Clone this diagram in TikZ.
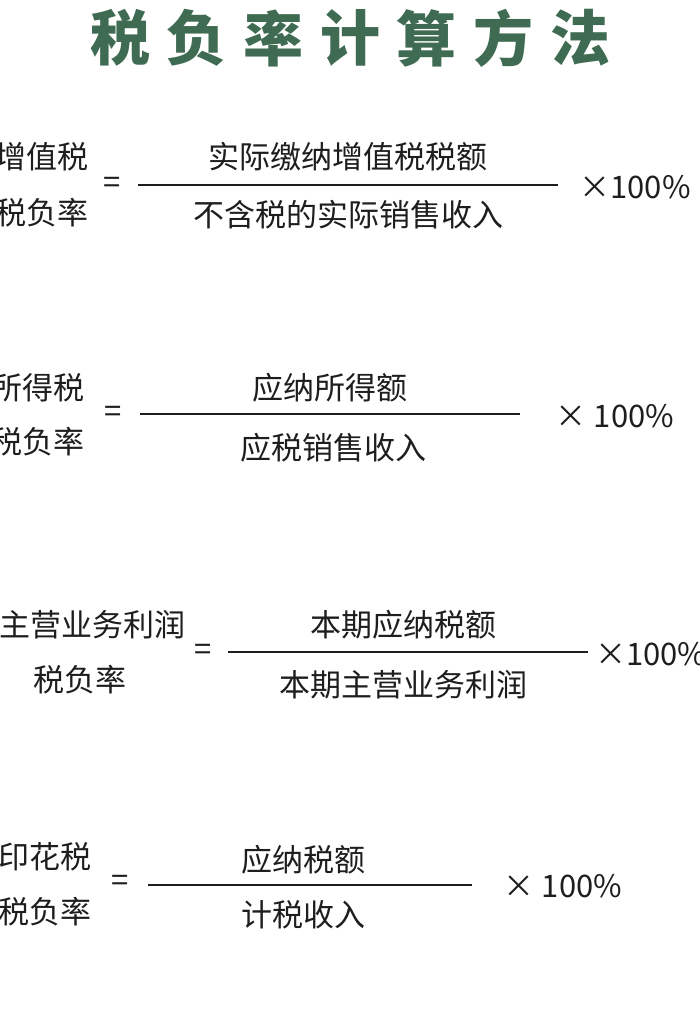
\documentclass[tikz,border=0pt]{standalone}
\usepackage{fontspec}
\setmainfont{Noto Sans CJK SC}
\newfontfamily\titlefont{Noto Sans CJK SC Black}
\definecolor{tgreen}{HTML}{3F6B52}
\definecolor{ink}{HTML}{1E1E1E}
\begin{document}
\begin{tikzpicture}[x=1pt,y=-1pt,
  txt/.style={inner sep=0pt,text=ink,font=\fontsize{31}{33}\selectfont},
  ttl/.style={inner sep=0pt,text=tgreen,font=\titlefont\fontsize{60}{62}\selectfont},
  frac/.style={line width=1.3pt,draw=ink}]
\useasboundingbox (0,0) rectangle (700,1032);
\fill[white] (0,0) rectangle (700,1032);
% title
\foreach \c [count=\i from 0] in {税,负,率,计,算,方,法}
  \node[ttl] (t\i) at (120+\i*76.7,38) {\c};
% formula 1
\node[txt] (a1) at (42,157) {增值税};
\node[txt] (a2) at (42,213) {税负率};
\node[txt] (ae) at (112,185) {=};
\coordinate (al) at (138,185); \coordinate (ar) at (558,185);
\draw[frac] (al) -- (ar);
\node[txt] (an) at (348,157) {实际缴纳增值税税额};
\node[txt] (ad) at (348,215) {不含税的实际销售收入};
\node[txt] (ap) at (635,187) {×100\%};
% formula 2
\node[txt] (b1) at (38,388) {所得税};
\node[txt] (b2) at (38,442) {税负率};
\node[txt] (be) at (113,414) {=};
\coordinate (bl) at (140,414); \coordinate (br) at (520,414);
\draw[frac] (bl) -- (br);
\node[txt] (bn) at (330,388) {应纳所得额};
\node[txt] (bd) at (333,448) {应税销售收入};
\node[txt] (bp) at (615,416) {×\ 100\%};
% formula 3
\node[txt] (c1) at (92,625) {主营业务利润};
\node[txt] (c2) at (80,680) {税负率};
\node[txt] (ce) at (203,652) {=};
\coordinate (cl) at (228,652); \coordinate (cr) at (588,652);
\draw[frac] (cl) -- (cr);
\node[txt] (cn) at (403,625) {本期应纳税额};
\node[txt] (cd) at (403,685) {本期主营业务利润};
\node[txt,anchor=west] (cp) at (595,654) {×100\%};
% formula 4
\node[txt] (d1) at (45,857) {印花税};
\node[txt] (d2) at (45,912) {税负率};
\node[txt] (de) at (120,883) {=};
\coordinate (dl) at (148,885); \coordinate (dr) at (472,885);
\draw[frac] (dl) -- (dr);
\node[txt] (dn) at (303,860) {应纳税额};
\node[txt] (dd) at (303,915) {计税收入};
\node[txt] (dp) at (563,886) {×\ 100\%};
\end{tikzpicture}
\end{document}
